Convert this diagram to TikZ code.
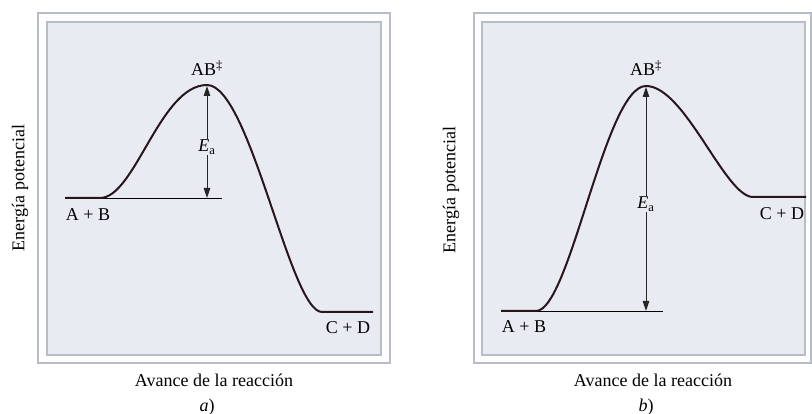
\documentclass[tikz,border=0pt]{standalone}
\usepackage{fontspec}
\setmainfont{Liberation Serif}
\usetikzlibrary{arrows.meta}
\definecolor{marco}{RGB}{184,188,198}
\definecolor{fondo}{RGB}{233,235,243}
\definecolor{perfilc}{RGB}{40,22,28}
\tikzset{
  marcoext/.style={draw=marco,line width=1.4pt,fill=white!94!fondo},
  marcoint/.style={draw=marco,line width=1.8pt,fill=fondo},
  perfil/.style={draw=perfilc,line width=2pt},
  nivel/.style={draw=black,line width=0.9pt},
  flecha/.style={draw=black!85,line width=1pt,{Triangle[length=10pt,width=6.5pt]}-{Triangle[length=10pt,width=6.5pt]}},
  etiq/.style={font=\fontsize{18}{21}\selectfont,inner sep=1pt},
}

\begin{document}
\begin{tikzpicture}[x=1pt,y=-1pt]
    \useasboundingbox (0,0) rectangle (812,414);

    \draw[marcoext] (38,13) rectangle (390,363);
    \draw[marcoint] (47,22) rectangle (381,355);
    \draw[marcoext] (474,13) rectangle (811,363);
    \draw[marcoint] (482,22) rectangle (805,355);

    \coordinate (iniA) at (65,198);
    \coordinate (subeA) at (100,198);
    \coordinate (cimaA) at (207,85);
    \coordinate (bajaA) at (322,312);
    \coordinate (finA) at (373,312);
    \coordinate (baseA) at (207,198);
    \coordinate (tope) at (222,198);

    \coordinate (iniB) at (501,311);
    \coordinate (subeB) at (536,311);
    \coordinate (cimaB) at (646,86);
    \coordinate (bajaB) at (753,197);
    \coordinate (finB) at (806,197);
    \coordinate (baseB) at (646,311);
    \coordinate (topeB) at (663,311);

    \draw[nivel] (iniA) -- (tope);
    \draw[nivel] (iniB) -- (topeB);

    \draw[flecha] ([yshift=-1pt]cimaA) -- (baseA);
    \draw[flecha] ([yshift=-1pt]cimaB) -- (baseB);

    \draw[perfil] (iniA) -- (subeA) .. controls (135,198) and (160,85) .. (cimaA)
        .. controls (250,85) and (290,312) .. (bajaA) -- (finA);
    \draw[perfil] (iniB) -- (subeB) .. controls (570,311) and (605,86) .. (cimaB)
        .. controls (685,86) and (725,197) .. (bajaB) -- (finB);

    \node[etiq,fill=fondo] (EaA) at (207,147) {\textit{E}\textsubscript{a}};
    \node[etiq,fill=fondo] (EaB) at (646,204) {\textit{E}\textsubscript{a}};

    \node[etiq] (ABa) at (207,68) {AB\textsuperscript{\textdaggerdbl}};
    \node[etiq] (ABb) at (646,68) {AB\textsuperscript{\textdaggerdbl}};
    \node[etiq] (reacA) at (88,215) {A + B};
    \node[etiq] (prodA) at (348,328) {C + D};
    \node[etiq] (reacB) at (524,327) {A + B};
    \node[etiq] (prodB) at (782,214) {C + D};

    \node[etiq,rotate=90] (ejeyA) at (20,188) {Energía potencial};
    \node[etiq,rotate=90] (ejeyB) at (451,190) {Energía potencial};
    \node[etiq] (ejexA) at (214,380) {Avance de la reacción};
    \node[etiq] (ejexB) at (653,380) {Avance de la reacción};
    \node[etiq] (capA) at (207,407) {\textit{a})};
    \node[etiq] (capB) at (646,407) {\textit{b})};
\end{tikzpicture}
\end{document}
